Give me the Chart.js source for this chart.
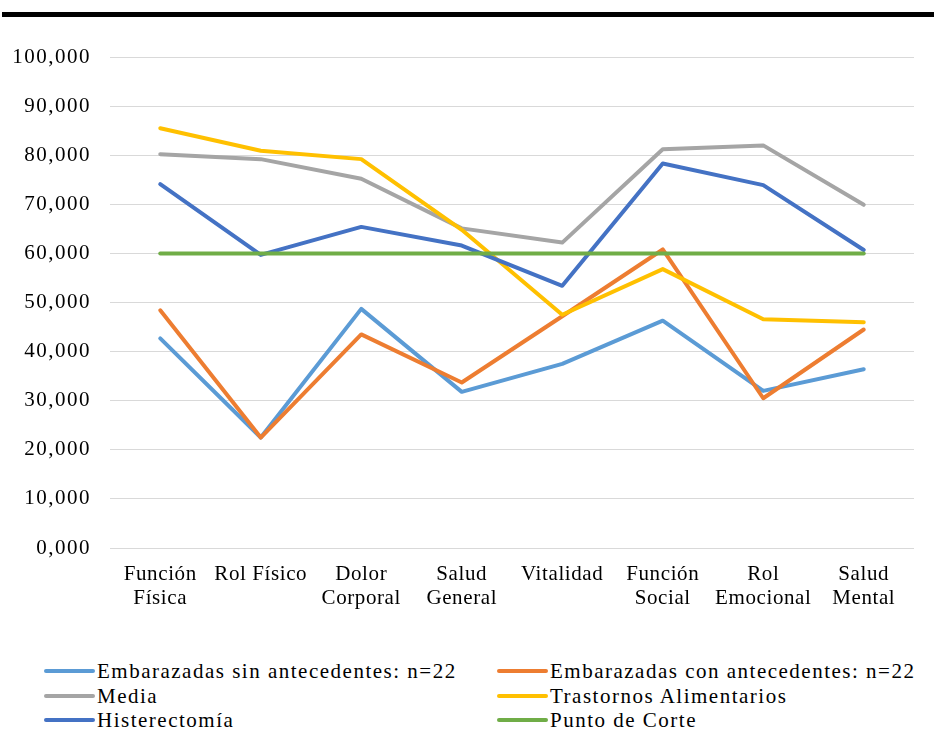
<!DOCTYPE html>
<html>
<head>
<meta charset="utf-8">
<script src="https://cdn.jsdelivr.net/npm/chart.js@4.4.1/dist/chart.umd.min.js"></script>
<style>
  html, body { margin: 0; padding: 0; background: #fff; }
  #wrap { position: relative; width: 934px; height: 732px; overflow: hidden; background: #fff; }
  #topbar { position: absolute; left: 2px; right: 0; top: 12px; height: 5px; background: #000; }
  #cv { position: absolute; left: 0; top: 0; }
  #legend { position: absolute; left: 0; top: 659px; width: 934px;
            font-family: "Liberation Serif", "Times New Roman", serif; font-size: 21px;
            letter-spacing: 1.5px; color: #000; }
  .item { position: absolute; height: 24px; line-height: 24px; white-space: nowrap; }
  .swatch { position: absolute; top: 10px; width: 51px; height: 4px; border-radius: 2px; }
  .label { position: absolute; left: 53px; top: 0; }
</style>
</head>
<body>
<div id="wrap">
  <canvas id="cv" width="934" height="640"></canvas>
  <div id="topbar"></div>
  <div id="legend"></div>
</div>
<script>
const categories = [
  ["Función", "Física"], ["Rol Físico"], ["Dolor", "Corporal"], ["Salud", "General"],
  ["Vitalidad"], ["Función", "Social"], ["Rol", "Emocional"], ["Salud", "Mental"]
];
const seriesNames = [
  "Embarazadas sin antecedentes: n=22",
  "Embarazadas con antecedentes: n=22",
  "Media",
  "Trastornos Alimentarios",
  "Histerectomía",
  "Punto de Corte"
];
const sinAntecedentes = [42.7, 22.5, 48.7, 31.8, 37.5, 46.3, 32.0, 36.4];
const conAntecedentes = [48.4, 22.5, 43.5, 33.7, 47.2, 60.8, 30.5, 44.5];
const media = [80.2, 79.2, 75.2, 65.1, 62.2, 81.2, 82.0, 69.9];
const trastornos = [85.5, 80.9, 79.2, 64.8, 47.5, 56.8, 46.6, 46.0];
const histerectomia = [74.1, 59.7, 65.4, 61.6, 53.4, 78.3, 73.9, 60.7];
const puntoCorte = [60, 60, 60, 60, 60, 60, 60, 60];
const yTicks = [0, 10, 20, 30, 40, 50, 60, 70, 80, 90, 100];

const colors = ["#5B9BD5", "#ED7D31", "#A5A5A5", "#FFC000", "#4472C4", "#70AD47"];
const allSeries = [sinAntecedentes, conAntecedentes, media, trastornos, histerectomia, puntoCorte];

const FONT = { family: '"Liberation Serif", "Times New Roman", serif', size: 21, lineHeight: 1.15 };

const spacingPlugin = {
  id: 'spacing',
  beforeInit(chart) { chart.ctx.letterSpacing = '1.5px'; },
  beforeUpdate(chart) { chart.ctx.letterSpacing = '1.5px'; },
  beforeDraw(chart) {
    chart.ctx.letterSpacing = '1.5px';
    const xs = chart.scales.x;
    if (xs && !xs._wrappedLabels) {
      const orig = xs.drawLabels.bind(xs);
      xs.drawLabels = function (area) {
        const ctx = chart.ctx;
        const prev = ctx.letterSpacing;
        ctx.letterSpacing = '0.6px';
        orig(area);
        ctx.letterSpacing = prev;
      };
      xs._wrappedLabels = true;
    }
  }
};

const datasets = allSeries.map((d, i) => ({
  label: seriesNames[i],
  data: d,
  borderColor: colors[i],
  backgroundColor: colors[i],
  borderWidth: 4,
  pointRadius: 0,
  pointHoverRadius: 0,
  tension: 0,
  fill: false,
  borderCapStyle: 'round',
  borderJoinStyle: 'round',
  order: allSeries.length - i
}));

new Chart(document.getElementById('cv'), {
  type: 'line',
  data: { labels: categories, datasets },
  plugins: [spacingPlugin],
  options: {
    responsive: false,
    animation: false,
    events: [],
    layout: { padding: { left: 0, right: 20, top: 57, bottom: 0 } },
    plugins: { legend: { display: false }, tooltip: { enabled: false } },
    scales: {
      x: {
        offset: true,
        grid: { display: false, drawTicks: false },
        border: { display: false },
        ticks: { color: '#000', font: FONT, padding: 14, maxRotation: 0, autoSkip: false },
        afterFit(scale) { scale.height = 92; }
      },
      y: {
        min: 0, max: 100,
        afterBuildTicks(scale) { scale.ticks = yTicks.map(v => ({ value: v })); },
        grid: { color: '#d9d9d9', lineWidth: 1, drawTicks: false },
        border: { display: false },
        ticks: {
          color: '#000', font: FONT, padding: 19,
          callback: v => Number(v).toFixed(3).replace('.', ',')
        },
        afterFit(scale) { scale.width = 110; }
      }
    }
  }
});

// HTML legend, two columns
const legend = document.getElementById('legend');
const colX = [44, 497];
seriesNames.forEach((name, i) => {
  const row = Math.floor(i / 2), col = i % 2;
  const it = document.createElement('div');
  it.className = 'item';
  it.style.left = colX[col] + 'px';
  it.style.top = (row * 24.5) + 'px';
  const sw = document.createElement('span');
  sw.className = 'swatch';
  sw.style.background = colors[i];
  const lb = document.createElement('span');
  lb.className = 'label';
  lb.textContent = name;
  it.appendChild(sw); it.appendChild(lb);
  legend.appendChild(it);
});
</script>
</body>
</html>
